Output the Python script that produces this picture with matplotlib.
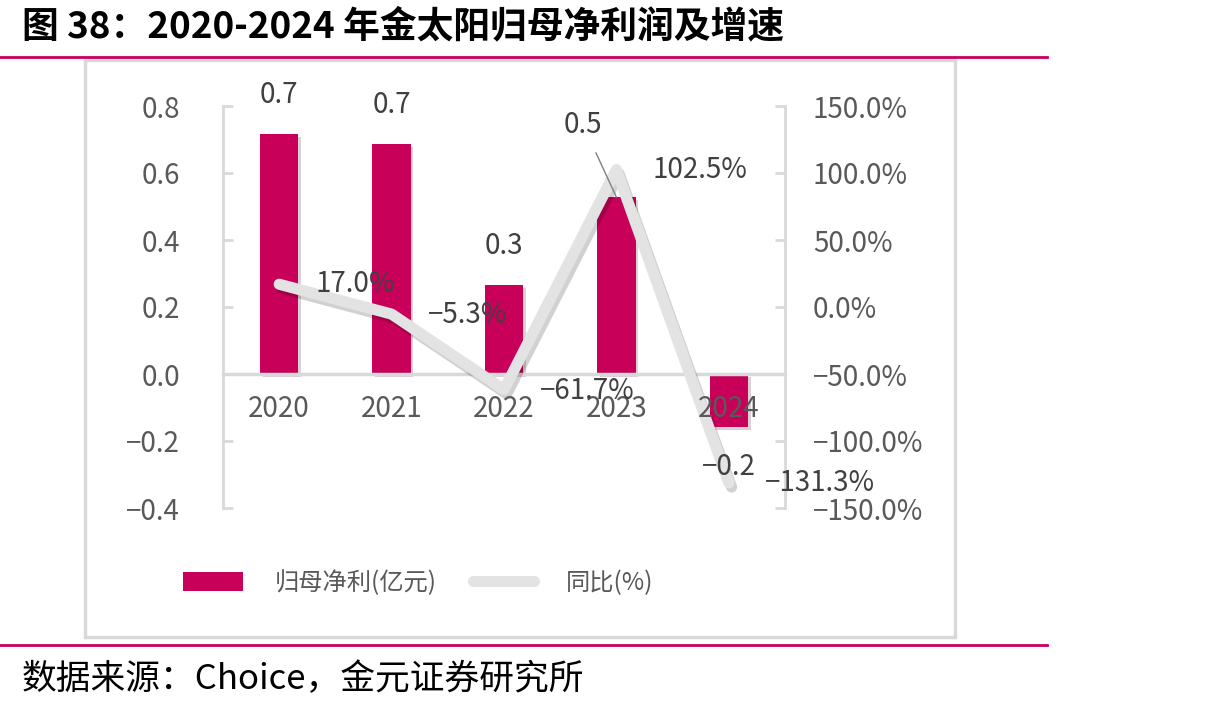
import matplotlib
matplotlib.use('Agg')
import matplotlib.pyplot as plt
import matplotlib.patheffects as pe
from matplotlib.patches import Rectangle, Patch
from matplotlib.lines import Line2D

plt.rcParams['font.family'] = ['Noto Sans CJK SC', 'DejaVu Sans']
plt.rcParams['axes.unicode_minus'] = True

# 数据
years = ['2020', '2021', '2022', '2023', '2024']
net_profit = [0.716, 0.687, 0.266, 0.528, -0.158]      # 归母净利(亿元)
net_labels = ['0.7', '0.7', '0.3', '0.5', '−0.2']
yoy = [17.0, -5.3, -61.7, 102.5, -131.3]                # 同比(%)
yoy_labels = ['17.0%', '−5.3%', '−61.7%', '102.5%', '−131.3%']
left_ticks = [-0.4, -0.2, 0.0, 0.2, 0.4, 0.6, 0.8]
right_ticks = [-150, -100, -50, 0, 50, 100, 150]

BAR_C = '#C8005A'
LINE_C = '#E3E3E3'
GRID_C = '#D9D9D9'
TXT_C = '#595959'
W, H = 1232, 712

fig = plt.figure(figsize=(W / 100, H / 100), dpi=100)

# 标题与分隔线
fig.text(22 / W, 1 - 27 / H, '图 38：2020-2024 年金太阳归母净利润及增速',
         fontsize=26.5, fontweight='bold', color='black', va='center', ha='left')
fig.add_artist(Line2D([0, 1047 / W], [1 - 57 / H] * 2, color=BAR_C, lw=2))
fig.add_artist(Line2D([0, 1047 / W], [1 - 645 / H] * 2, color=BAR_C, lw=2))
fig.add_artist(Rectangle((85 / W, 1 - 637 / H), 870 / W, 577 / H, transform=fig.transFigure,
                         fill=False, ec=GRID_C, lw=2.5))
fig.text(22 / W, 1 - 680 / H, '数据来源：Choice，金元证券研究所',
         fontsize=25, style='italic', color='black', va='center', ha='left')

ax = fig.add_axes([223 / W, 1 - 508 / H, (785 - 223) / W, (508 - 106) / H])
ax2 = ax.twinx()

x = list(range(len(years)))
ax.bar(x, net_profit, width=0.34, color=BAR_C, zorder=2,
       path_effects=[pe.SimplePatchShadow(offset=(2, -2), alpha=0.18), pe.Normal()])
ax.set_xlim(-0.5, 4.5)
ax.set_ylim(-0.4, 0.8)
ax.set_yticks(left_ticks)
ax.set_yticklabels([f'{v:.1f}'.replace('-', '−') for v in left_ticks])
ax.set_xticks(x)
ax.set_xticklabels([])
ax.spines['bottom'].set_position(('data', 0))
ax.spines['bottom'].set_color(GRID_C)
ax.spines['bottom'].set_linewidth(2.5)
ax.spines['left'].set_color(GRID_C)
ax.spines['left'].set_linewidth(2)
ax.spines['top'].set_visible(False)
ax.spines['right'].set_visible(False)
ax.tick_params(axis='y', direction='in', length=7, width=2, color=GRID_C,
               labelcolor=TXT_C, labelsize=20, pad=31)
ax.tick_params(axis='x', length=0)

ax2.plot(x, yoy, color=LINE_C, lw=8, zorder=3, solid_capstyle='round', solid_joinstyle='round',
         path_effects=[pe.SimpleLineShadow(offset=(2, -3), alpha=0.18, shadow_color='black'), pe.Normal()])
ax2.set_ylim(-150, 150)
ax2.set_yticks(right_ticks)
ax2.set_yticklabels([f'{v:.1f}%'.replace('-', '−') for v in right_ticks])
for s in ['top', 'bottom', 'left']:
    ax2.spines[s].set_visible(False)
ax2.spines['right'].set_color(GRID_C)
ax2.spines['right'].set_linewidth(2)
ax2.tick_params(axis='y', direction='in', length=7, width=2, color=GRID_C,
                labelcolor=TXT_C, labelsize=20, pad=20)

# 类别标签（画在折线之上）
for i, yr in enumerate(years):
    ax2.annotate(yr, xy=(i, 0), xycoords=ax.transData, xytext=(0, -25), textcoords='offset points',
                 ha='center', va='center', fontsize=20, color=TXT_C, zorder=5)

# 柱子数据标签
for i, (v, lab) in enumerate(zip(net_profit, net_labels)):
    if i == 3:
        ax2.annotate(lab, xy=(i, v), xycoords=ax.transData, xytext=(-24, 52), textcoords='offset points',
                     ha='center', va='center', fontsize=20, color='#404040', zorder=5,
                     arrowprops=dict(arrowstyle='-', color='#808080', lw=1, shrinkA=8, shrinkB=0))
    else:
        off = 28 if v >= 0 else -29
        ax2.annotate(lab, xy=(i, v), xycoords=ax.transData, xytext=(0, off), textcoords='offset points',
                     ha='center', va='center', fontsize=20, color='#404040', zorder=5)

# 折线数据标签
for i, (v, lab) in enumerate(zip(yoy, yoy_labels)):
    ax2.annotate(lab, xy=(i, v), xytext=(26, -1 if i in (1, 2) else 0), textcoords='offset points',
                 ha='left', va='center', fontsize=20, color='#404040', zorder=5)

handles = [Patch(facecolor=BAR_C, edgecolor='none'),
           Line2D([0], [0], color=LINE_C, lw=8, solid_capstyle='round')]
fig.legend(handles, ['归母净利(亿元)', '同比(%)'], loc='center', ncol=2, frameon=False,
           bbox_to_anchor=(418 / W, 1 - 583 / H), fontsize=17.5, labelcolor=TXT_C,
           handlelength=2.5, handleheight=0.8, handletextpad=1.3, columnspacing=1.5)

fig.savefig('out.png', dpi=100)
